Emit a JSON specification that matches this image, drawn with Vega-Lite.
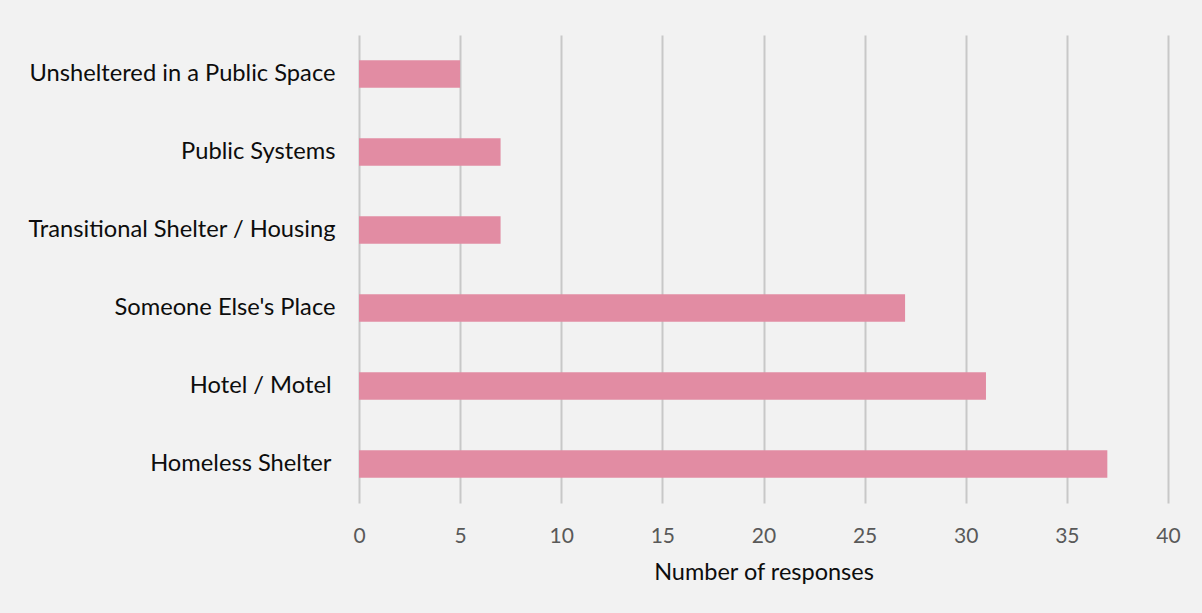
{
  "$schema": "https://vega.github.io/schema/vega-lite/v6.json",
  "autosize": "none",
  "width": 809,
  "height": 468,
  "padding": {"left": 359, "top": 35, "right": 34, "bottom": 110},
  "background": "#f2f2f2",
  "config": {"view": {"stroke": null}, "font": "Lato"},
  "data": {"values": [
    {"category": "Unsheltered in a Public Space", "responses": 5},
    {"category": "Public Systems", "responses": 7},
    {"category": "Transitional Shelter / Housing", "responses": 7},
    {"category": "Someone Else's Place", "responses": 27},
    {"category": "Hotel / Motel", "responses": 31},
    {"category": "Homeless Shelter", "responses": 37}
  ]},
  "mark": {"type": "bar", "color": "#e28ca3"},
  "encoding": {
    "y": {
      "field": "category", "type": "nominal", "sort": null,
      "scale": {"paddingInner": 0.645, "paddingOuter": 0.3225},
      "axis": {"title": null, "domain": false, "ticks": false,
        "labelPadding": {"condition": {"test": "datum.value == 'Hotel / Motel' || datum.value == 'Homeless Shelter'", "value": 28}, "value": 24},
        "labelFontSize": 23.7, "labelColor": "#0d0d0d", "labelFont": "Lato", "labelLimit": 400}
    },
    "x": {
      "field": "responses", "type": "quantitative",
      "scale": {"domain": [0, 40], "nice": false},
      "axis": {"title": "Number of responses", "values": [0,5,10,15,20,25,30,35,40], "domain": false, "ticks": false, "grid": true, "gridColor": "#c8c8c8", "gridWidth": 2, "labelFlush": false, "labelFontSize": 21, "labelColor": "#595959", "labelPadding": 22, "titleFontSize": 23.5, "titleFontWeight": "normal", "titleColor": "#0d0d0d", "titlePadding": 14, "labelFont": "Lato", "titleFont": "Lato"}
    }
  }
}
